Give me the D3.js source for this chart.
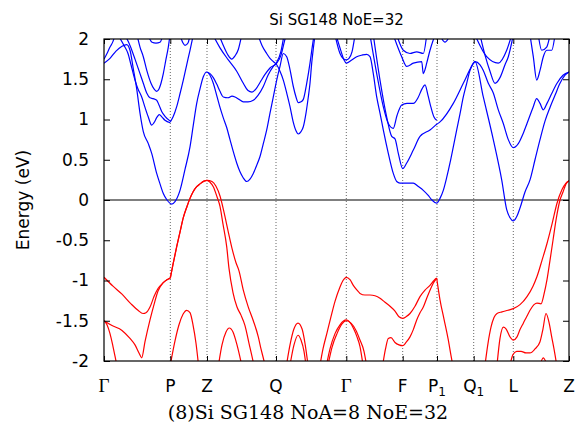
<!DOCTYPE html>
<html><head><meta charset="utf-8">
<script src="https://cdn.jsdelivr.net/npm/d3@7"></script>
<style>body{margin:0;background:#fff}</style>
</head><body>
<svg id="c" width="578" height="438"></svg>
<script>
// k-path positions of high-symmetry points and their labels
const kTickPos = [0, 0.663, 1.03, 1.72, 2.423, 2.987, 3.33, 3.697, 4.093, 4.65];
const kTickLabels = ["Γ","P","Z","Q","Γ","F","P1","Q1","L","Z"];
const yTickValues = [-2,-1.5,-1,-0.5,0,0.5,1,1.5,2];
const yTickLabels = ["-2","-1.5","-1","-0.5","0","0.5","1","1.5","2"];
const titleText = "Si SG148 NoE=32";
const captionText = "(8)Si SG148 NoA=8 NoE=32";

// valence bands [k, E]
const vb1 = [[0,-0.96],[0.09,-1.07],[0.18,-1.17],[0.27,-1.29],[0.34,-1.37],[0.39,-1.41],[0.42,-1.40],[0.46,-1.33],[0.50,-1.2],[0.54,-1.1],[0.59,-1.03],[0.63,-0.99],[0.663,-0.97]];
const vb2 = [[0,-1.5],[0.08,-1.56],[0.18,-1.62],[0.26,-1.72],[0.31,-1.8],[0.35,-1.9],[0.377,-1.96],[0.41,-1.76],[0.46,-1.49],[0.50,-1.3],[0.54,-1.13],[0.59,-1.03],[0.63,-0.99],[0.663,-0.97]];
const vb3 = [[0,-1.5],[0.03,-1.55],[0.06,-1.66],[0.09,-1.82],[0.12,-2.0],[0.13,-2.06]];
const vb4 = [[0.663,-0.97],[0.69,-0.8],[0.727,-0.58],[0.76,-0.4],[0.793,-0.22],[0.83,-0.08],[0.86,0.02],[0.89,0.1],[0.927,0.165],[0.96,0.2],[1.0,0.235],[1.03,0.245],[1.06,0.22],[1.093,0.165],[1.13,0.04],[1.16,-0.08],[1.19,-0.3],[1.227,-0.58],[1.25,-0.85],[1.29,-1.15],[1.33,-1.33],[1.37,-1.43],[1.41,-1.56],[1.45,-1.78],[1.49,-2.0],[1.50,-2.06]];
const vb5 = [[0.663,-0.97],[0.69,-0.8],[0.727,-0.58],[0.76,-0.4],[0.793,-0.22],[0.83,-0.08],[0.86,0.02],[0.89,0.1],[0.927,0.165],[0.96,0.2],[1.0,0.235],[1.03,0.245],[1.08,0.23],[1.12,0.17],[1.16,0.05],[1.20,-0.15],[1.24,-0.38],[1.28,-0.6],[1.32,-0.78],[1.35,-0.88],[1.393,-1.12],[1.443,-1.33],[1.493,-1.5],[1.543,-1.70],[1.57,-1.85],[1.60,-2.0],[1.61,-2.06]];
const vb6 = [[0.663,-2.05],[0.71,-1.75],[0.75,-1.55],[0.79,-1.42],[0.827,-1.37],[0.86,-1.4],[0.89,-1.55],[0.92,-1.78],[0.945,-2.05]];
const vb7 = [[1.145,-2.05],[1.18,-1.8],[1.22,-1.64],[1.253,-1.59],[1.29,-1.64],[1.33,-1.8],[1.377,-2.05]];
const vb8 = [[1.825,-2.05],[1.86,-1.8],[1.90,-1.6],[1.94,-1.53],[1.98,-1.6],[2.01,-1.78],[2.04,-2.05]];
const vb9 = [[1.86,-2.05],[1.90,-1.8],[1.94,-1.68],[1.97,-1.74],[2.00,-1.88],[2.02,-2.05]];
const vb10 = [[2.16,-2.05],[2.19,-1.85],[2.23,-1.65],[2.27,-1.45],[2.31,-1.26],[2.36,-1.08],[2.39,-1.0],[2.423,-0.96],[2.46,-0.99],[2.493,-1.06],[2.53,-1.12],[2.56,-1.16],[2.61,-1.18],[2.66,-1.18],[2.71,-1.19],[2.76,-1.22],[2.81,-1.27],[2.86,-1.32],[2.91,-1.38],[2.95,-1.45],[2.987,-1.47],[3.02,-1.45],[3.06,-1.41],[3.11,-1.32],[3.16,-1.2],[3.21,-1.12],[3.26,-1.06],[3.30,-1.0],[3.327,-0.97]];
const vb11 = [[2.225,-2.05],[2.26,-1.85],[2.31,-1.66],[2.36,-1.55],[2.423,-1.49],[2.46,-1.52],[2.493,-1.59],[2.53,-1.7],[2.56,-1.82],[2.59,-2.05]];
const vb12 = [[2.24,-2.05],[2.28,-1.83],[2.33,-1.66],[2.38,-1.54],[2.423,-1.5],[2.47,-1.53],[2.52,-1.62],[2.56,-1.74],[2.60,-1.88],[2.625,-2.05]];
const vb13 = [[2.787,-2.05],[2.815,-1.85],[2.843,-1.72],[2.87,-1.71],[2.91,-1.77],[2.95,-1.8],[2.987,-1.81],[3.02,-1.77],[3.06,-1.70],[3.093,-1.61],[3.127,-1.49],[3.16,-1.4],[3.193,-1.33],[3.227,-1.22],[3.26,-1.12],[3.29,-1.04],[3.327,-0.97]];
const vb14 = [[3.327,-0.97],[3.36,-1.24],[3.40,-1.48],[3.44,-1.72],[3.48,-2.0],[3.49,-2.06]];
const vb15 = [[3.81,-2.05],[3.84,-1.78],[3.87,-1.58],[3.90,-1.46],[3.93,-1.41],[3.98,-1.39],[4.04,-1.37],[4.093,-1.35],[4.16,-1.3],[4.23,-1.2],[4.29,-1.07],[4.33,-0.95],[4.38,-0.75],[4.43,-0.54],[4.48,-0.3],[4.53,-0.04],[4.58,0.13],[4.62,0.21],[4.65,0.24]];
const vb16 = [[3.93,-2.05],[3.96,-1.72],[3.993,-1.58],[4.02,-1.6],[4.06,-1.7],[4.093,-1.74],[4.13,-1.7],[4.16,-1.61],[4.193,-1.53],[4.23,-1.44],[4.26,-1.37],[4.30,-1.3],[4.33,-1.28],[4.37,-1.29],[4.40,-1.17],[4.43,-0.99],[4.46,-0.75],[4.49,-0.5],[4.52,-0.25],[4.56,0.0],[4.59,0.1],[4.62,0.2],[4.65,0.24]];
const vb17 = [[4.06,-2.05],[4.09,-1.92],[4.127,-1.88],[4.17,-1.88],[4.22,-1.9],[4.26,-1.9],[4.31,-1.85],[4.36,-1.76],[4.39,-1.6],[4.42,-1.41],[4.45,-1.52],[4.477,-1.70],[4.50,-1.85],[4.527,-2.05]];
const vb18 = [[4.36,-2.05],[4.393,-1.96],[4.43,-2.05]];

// conduction bands [k, E]
const cb1 = [[0,1.70],[0.06,1.76],[0.12,1.85],[0.18,1.91],[0.227,1.93],[0.26,1.86],[0.293,1.63],[0.327,1.38],[0.36,1.08],[0.393,0.85],[0.443,0.70],[0.477,0.58],[0.527,0.33],[0.56,0.2],[0.593,0.08],[0.63,0.0],[0.677,-0.05],[0.71,-0.02],[0.76,0.12],[0.81,0.38],[0.86,0.66],[0.893,0.93],[0.927,1.2],[0.96,1.38],[0.993,1.53],[1.027,1.59],[1.06,1.55],[1.093,1.45],[1.127,1.3],[1.16,1.15],[1.193,1.02],[1.227,0.9],[1.26,0.75],[1.293,0.6],[1.327,0.46],[1.36,0.35],[1.39,0.28],[1.427,0.23],[1.46,0.26],[1.493,0.33],[1.527,0.43],[1.56,0.54],[1.593,0.7],[1.627,0.87],[1.66,1.08],[1.693,1.28],[1.727,1.49],[1.76,1.66],[1.793,1.82],[1.827,1.78],[1.86,1.62],[1.893,1.41],[1.92,1.28],[1.943,1.21],[1.97,1.22],[1.993,1.25],[2.027,1.45],[2.06,1.7],[2.08,1.88],[2.10,2.05]];
const cb2 = [[0,1.75],[0.03,1.82],[0.06,1.9],[0.09,1.97],[0.11,2.05]];
const cb3 = [[0.14,2.05],[0.20,1.92],[0.24,1.82],[0.27,1.68],[0.31,1.49],[0.34,1.38],[0.377,1.28],[0.41,1.15],[0.443,1.03],[0.477,0.93],[0.50,0.96],[0.53,1.03],[0.553,1.06],[0.58,1.03],[0.61,0.99],[0.663,0.96]];
const cb4 = [[0.21,2.05],[0.26,1.92],[0.31,1.75],[0.36,1.57],[0.393,1.45],[0.427,1.33],[0.46,1.27],[0.49,1.26],[0.527,1.24],[0.55,1.18],[0.577,1.1],[0.61,1.04],[0.663,0.98]];
const cb5 = [[0.33,2.05],[0.36,1.9],[0.393,1.78],[0.43,1.6],[0.47,1.45],[0.50,1.38],[0.527,1.35],[0.55,1.38],[0.57,1.45],[0.593,1.57],[0.62,1.75],[0.643,1.9],[0.66,2.05]];
const cb6 = [[0.44,2.05],[0.48,1.96],[0.52,1.95],[0.56,1.96],[0.59,2.05]];
const cb7 = [[0.663,0.97],[0.69,1.03],[0.727,1.16],[0.76,1.32],[0.793,1.49],[0.827,1.68],[0.86,1.86],[0.893,2.05]];
const cb8 = [[0.76,2.05],[0.79,1.95],[0.81,1.92],[0.84,1.95],[0.86,2.05]];
const cb9 = [[1.027,1.59],[1.06,1.57],[1.093,1.52],[1.127,1.44],[1.16,1.35],[1.193,1.28],[1.24,1.27],[1.28,1.29],[1.31,1.28],[1.35,1.25],[1.393,1.22],[1.44,1.22],[1.493,1.24],[1.54,1.3],[1.593,1.41],[1.64,1.55],[1.693,1.66],[1.727,1.71],[1.77,1.85],[1.80,2.05]];
const cb10 = [[1.09,2.05],[1.16,1.89],[1.243,1.74],[1.327,1.6],[1.393,1.45],[1.44,1.36],[1.48,1.34],[1.52,1.38],[1.56,1.46],[1.61,1.56],[1.66,1.64],[1.727,1.70],[1.77,1.8],[1.80,1.95],[1.82,2.05]];
const cb11 = [[1.15,2.05],[1.20,1.9],[1.24,1.8],[1.277,1.75],[1.31,1.79],[1.343,1.87],[1.377,2.05]];
const cb12 = [[1.54,2.05],[1.58,1.92],[1.627,1.82],[1.66,1.76],[1.693,1.72],[1.727,1.68],[1.76,1.6],[1.793,1.49],[1.827,1.33],[1.86,1.16],[1.89,0.98],[1.92,0.86],[1.943,0.82],[1.97,0.85],[1.993,0.91],[2.02,1.08],[2.043,1.28],[2.06,1.45],[2.077,1.7],[2.095,1.9],[2.11,2.05]];
const cb13 = [[2.31,2.05],[2.36,1.82],[2.39,1.76],[2.423,1.74],[2.45,1.76],[2.48,1.84],[2.51,2.05]];
const cb14 = [[2.32,2.05],[2.37,1.85],[2.40,1.74],[2.423,1.70],[2.477,1.74],[2.527,1.78],[2.58,1.8],[2.627,1.81],[2.66,1.78],[2.693,1.57],[2.727,1.28],[2.76,1.08],[2.793,0.87],[2.843,0.58],[2.893,0.33],[2.927,0.23],[2.96,0.21],[2.993,0.21],[3.04,0.21],[3.093,0.21],[3.14,0.17],[3.193,0.12],[3.24,0.06],[3.28,0.0],[3.327,-0.04],[3.36,0.02],[3.393,0.12],[3.427,0.28],[3.46,0.46],[3.493,0.66],[3.527,0.87],[3.56,1.07],[3.593,1.28],[3.627,1.45],[3.66,1.61],[3.693,1.70],[3.71,1.72],[3.793,1.28],[3.893,0.75],[3.977,0.25],[4.027,-0.12],[4.06,-0.22],[4.093,-0.26],[4.13,-0.2],[4.16,-0.1],[4.21,0.1],[4.26,0.25],[4.31,0.5],[4.36,0.75],[4.41,0.98],[4.46,1.15],[4.51,1.3],[4.56,1.45],[4.61,1.55],[4.65,1.59]];
const cb15 = [[2.693,2.05],[2.76,1.49],[2.827,1.03],[2.877,0.79],[2.91,0.76],[2.943,0.58],[2.987,0.39],[3.027,0.46],[3.093,0.62],[3.16,0.79],[3.26,0.87],[3.327,0.94],[3.36,0.97],[3.493,1.2],[3.593,1.45],[3.677,1.66],[3.71,1.72],[3.76,1.68],[3.793,1.61],[3.843,1.45],[3.893,1.33],[3.943,1.12],[3.993,0.95],[4.043,0.75],[4.093,0.65],[4.143,0.70],[4.193,0.83],[4.23,0.95],[4.29,1.15],[4.327,1.26],[4.36,1.2],[4.393,1.12],[4.43,1.2],[4.48,1.33],[4.53,1.45],[4.59,1.55],[4.65,1.59]];
const cb16 = [[2.66,2.05],[2.727,1.57],[2.793,1.16],[2.843,0.95],[2.893,0.89],[2.93,1.05],[2.977,1.18],[3.03,1.2],[3.093,1.2],[3.14,1.27],[3.18,1.38],[3.21,1.43],[3.24,1.3],[3.27,1.15],[3.30,1.03],[3.327,0.99]];
const cb17 = [[2.927,2.05],[2.993,1.86],[3.06,1.82],[3.127,1.84],[3.193,1.82],[3.227,2.05]];
const cb18 = [[2.893,2.05],[2.977,1.78],[3.027,1.66],[3.093,1.70],[3.177,1.72],[3.193,1.57],[3.21,1.62],[3.227,1.70],[3.26,1.86],[3.31,2.05]];
const cb19 = [[3.36,2.05],[3.41,1.96],[3.46,2.05]];
const cb20 = [[3.71,2.05],[3.827,1.78],[3.943,1.70],[4.027,1.86],[4.077,2.05]];
const cb21 = [[3.76,2.05],[3.81,1.8],[3.86,1.6],[3.91,1.45],[3.96,1.52],[4.01,1.68],[4.043,1.78],[4.093,2.05]];
const cb22 = [[4.26,2.05],[4.293,1.78],[4.327,1.49],[4.36,1.61],[4.393,1.78],[4.427,1.86],[4.477,1.86],[4.51,2.05]];
const cb23 = [[4.343,2.05],[4.377,1.86],[4.427,1.9],[4.46,2.05]];

const valenceBands = [vb1,vb2,vb3,vb4,vb5,vb6,vb7,vb8,vb9,vb10,vb11,vb12,vb13,vb14,vb15,vb16,vb17,vb18];
const conductionBands = [cb1,cb2,cb3,cb4,cb5,cb6,cb7,cb8,cb9,cb10,cb11,cb12,cb13,cb14,cb15,cb16,cb17,cb18,cb19,cb20,cb21,cb22,cb23];

const svg = d3.select("#c");
const L = 104, R = 569, T = 39, B = 361;
const x = d3.scaleLinear().domain([0, 4.65]).range([L, R]);
const y = d3.scaleLinear().domain([-2, 2]).range([B, T]);

svg.append("defs").append("clipPath").attr("id","clip")
  .append("rect").attr("x",L).attr("y",T).attr("width",R-L).attr("height",B-T);

// dotted k-point lines
svg.append("g").selectAll("line").data(kTickPos.slice(1,-1)).join("line")
  .attr("x1",d=>x(d)).attr("x2",d=>x(d)).attr("y1",T).attr("y2",B)
  .attr("stroke","#666").attr("stroke-width",1).attr("stroke-dasharray","1,2");

// zero line
svg.append("line").attr("x1",L).attr("x2",R).attr("y1",y(0)).attr("y2",y(0))
  .attr("stroke","#000").attr("stroke-width",1.2);

const line = d3.line().x(d=>x(d[0])).y(d=>y(d[1])).curve(d3.curveMonotoneX);
const g = svg.append("g").attr("clip-path","url(#clip)");
g.selectAll("path.v").data(valenceBands).join("path").attr("class","v")
  .attr("d",line).attr("fill","none").attr("stroke","#ff0000").attr("stroke-width",1.2);
g.selectAll("path.c").data(conductionBands).join("path").attr("class","c")
  .attr("d",line).attr("fill","none").attr("stroke","#0000ff").attr("stroke-width",1.2);

// axes
const fontSans = "DejaVu Sans";
const yl = d3.axisLeft(y).tickValues(yTickValues).tickSize(-6).tickPadding(15)
  .tickFormat((d,i)=>yTickLabels[i]);
const ya = svg.append("g").attr("transform",`translate(${L},0)`).call(yl);
ya.select(".domain").remove();
ya.selectAll("text").attr("font-family",fontSans).attr("font-size",17).attr("fill","#000");
ya.selectAll("line").attr("stroke","#000");
const yr = d3.axisRight(y).tickValues(yTickValues).tickSize(-6).tickFormat("");
const yra = svg.append("g").attr("transform",`translate(${R},0)`).call(yr);
yra.select(".domain").remove();
yra.selectAll("line").attr("stroke","#000");

const xb = d3.axisBottom(x).tickValues(kTickPos).tickSize(-5).tickFormat("");
const xba = svg.append("g").attr("transform",`translate(0,${B})`).call(xb);
xba.select(".domain").remove();
xba.selectAll("line").attr("stroke","#000");
const xt = d3.axisTop(x).tickValues(kTickPos).tickSize(-5).tickFormat("");
const xta = svg.append("g").attr("transform",`translate(0,${T})`).call(xt);
xta.select(".domain").remove();
xta.selectAll("line").attr("stroke","#000");

// frame
svg.append("rect").attr("x",L).attr("y",T).attr("width",R-L).attr("height",B-T)
  .attr("fill","none").attr("stroke","#000").attr("stroke-width",1.2);

// k labels
const kl = svg.append("g");
kTickLabels.forEach((lab,i)=>{
  const t = kl.append("text").attr("x",x(kTickPos[i])).attr("y",392)
    .attr("text-anchor","middle").attr("font-size",17).attr("fill","#000");
  if (lab === "Γ") {
    t.attr("font-family","Liberation Serif").attr("font-size",19).text("Γ");
  } else if (lab.length === 2) {
    t.attr("font-family",fontSans);
    t.append("tspan").text(lab[0]);
    t.append("tspan").attr("font-size",12).attr("dy",4).text(lab[1]);
  } else {
    t.attr("font-family",fontSans).text(lab);
  }
});

// y label
svg.append("text").attr("transform",`translate(29,${(T+B)/2}) rotate(-90)`)
  .attr("text-anchor","middle").attr("font-family",fontSans).attr("font-size",17)
  .text("Energy (eV)");

// title
svg.append("text").attr("x",(L+R)/2).attr("y",25).attr("text-anchor","middle")
  .attr("font-family",fontSans).attr("font-size",15).text(titleText);

// caption
svg.append("text").attr("x",308).attr("y",419).attr("text-anchor","middle")
  .attr("font-family","DejaVu Serif").attr("font-size",19).text(captionText);
</script>
</body></html>
